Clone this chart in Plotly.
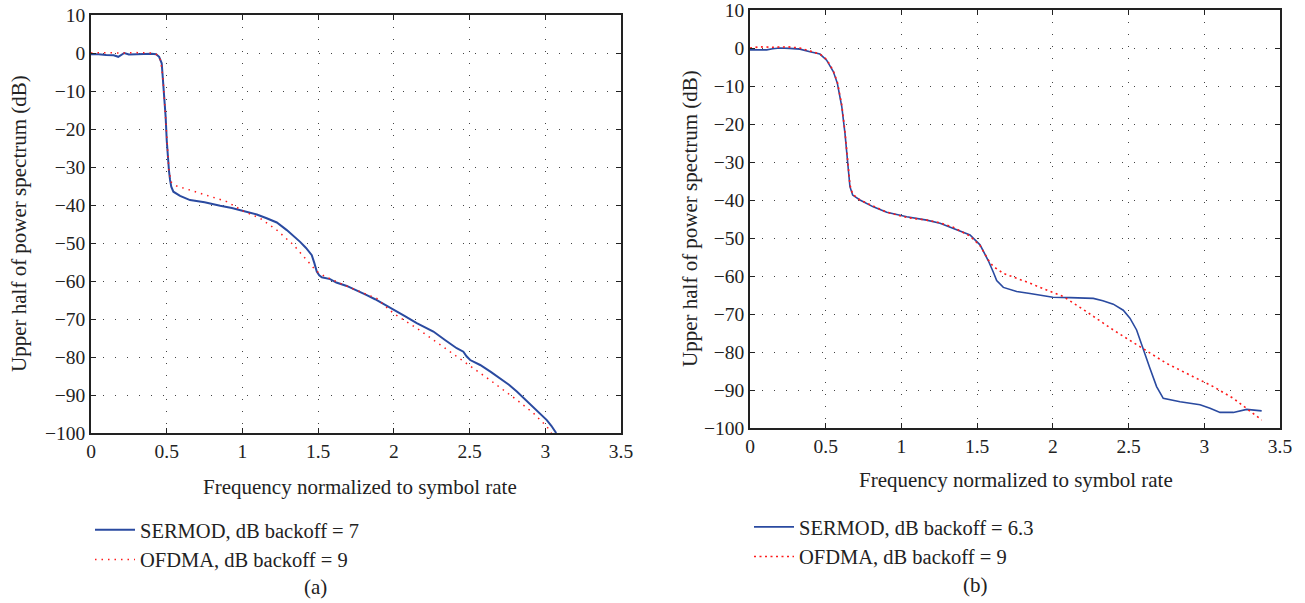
import plotly.graph_objects as go

# ---------------- data ----------------
a_sermod_x = [0.00, 0.05, 0.10, 0.15, 0.18, 0.20, 0.22, 0.25, 0.30, 0.35, 0.40, 0.43, 0.45, 0.467, 0.478,
              0.485, 0.493, 0.50, 0.507, 0.515, 0.522, 0.53, 0.544, 0.588, 0.654, 0.75, 0.853, 0.93, 1.006,
              1.095, 1.16, 1.227, 1.293, 1.34, 1.381, 1.42, 1.458, 1.475, 1.491, 1.507, 1.524, 1.579, 1.62,
              1.689, 1.76, 1.821, 1.876, 1.94, 1.997, 2.07, 2.151, 2.21, 2.261, 2.34, 2.415, 2.459, 2.48,
              2.504, 2.570, 2.64, 2.702, 2.76, 2.812, 2.87, 2.922, 2.97, 3.010, 3.04, 3.072]
a_sermod_y = [-0.3, -0.3, -0.5, -0.6, -1.0, -0.5, 0.0, -0.4, -0.3, -0.2, -0.2, -0.3, -1.0, -2.7, -8.0,
              -12.0, -16.8, -22.9, -27.3, -31.0, -33.4, -35.2, -36.5, -37.6, -38.7, -39.3, -40.2, -40.8, -41.6,
              -42.5, -43.5, -44.6, -46.6, -48.2, -49.7, -51.3, -53.2, -55.3, -57.5, -58.5, -59.0, -59.5, -60.4,
              -61.3, -62.5, -63.7, -64.8, -66.2, -67.6, -69.2, -71.1, -72.4, -73.3, -75.6, -77.7, -78.6, -79.8,
              -80.8, -82.1, -83.9, -85.6, -87.3, -89.1, -91.3, -93.5, -95.3, -96.6, -98.1, -100.0]

a_ofdma_x = [0.00, 0.10, 0.20, 0.30, 0.40, 0.44, 0.46, 0.475, 0.485, 0.495, 0.505, 0.515, 0.53, 0.566,
             0.72, 0.896, 1.006, 1.117, 1.227, 1.337, 1.425, 1.491, 1.546, 1.667, 1.887, 1.997, 2.151,
             2.327, 2.481, 2.636, 2.812, 2.922, 3.010, 3.04]
a_ofdma_y = [0.0, 0.1, 0.0, 0.1, 0.0, -0.5, -2.0, -6.5, -12.5, -19.0, -26.0, -31.0, -34.0, -35.0,
             -36.9, -39.1, -41.6, -43.5, -46.6, -50.5, -54.5, -57.5, -58.8, -61.0, -64.6, -68.5, -72.4,
             -77.3, -81.7, -86.1, -91.3, -94.8, -98.3, -100.0]

b_sermod_x = [0.00, 0.05, 0.11, 0.15, 0.198, 0.26, 0.33, 0.396, 0.462, 0.506, 0.55, 0.577, 0.606, 0.627,
              0.645, 0.66, 0.678, 0.726, 0.814, 0.903, 1.035, 1.167, 1.255, 1.343, 1.453, 1.519, 1.574,
              1.607, 1.629, 1.673, 1.761, 1.849, 1.959, 2.0, 2.113, 2.267, 2.33, 2.399, 2.465, 2.509,
              2.553, 2.597, 2.641, 2.685, 2.729, 2.84, 2.972, 3.038, 3.104, 3.192, 3.28, 3.379]
b_sermod_y = [-0.5, -0.5, -0.5, -0.2, 0.0, -0.1, -0.3, -1.0, -1.6, -3.2, -6.2, -9.3, -15.4, -22.4,
              -29.5, -36.5, -38.7, -40.0, -41.8, -43.2, -44.4, -45.3, -46.1, -47.5, -49.2, -51.8, -56.0,
              -59.0, -61.2, -63.0, -64.1, -64.6, -65.4, -65.6, -65.7, -65.9, -66.5, -67.4, -69.0, -71.1,
              -74.2, -79.5, -84.3, -89.1, -92.2, -93.1, -93.9, -94.8, -95.9, -95.9, -95.1, -95.5]

b_ofdma_x = [0.00, 0.066, 0.15, 0.25, 0.33, 0.40, 0.462, 0.506, 0.55, 0.577, 0.606, 0.627, 0.645, 0.66,
             0.678, 0.726, 0.814, 0.903, 1.035, 1.167, 1.255, 1.343, 1.453, 1.519, 1.574, 1.607, 1.673,
             1.739, 1.849, 1.959, 2.069, 2.223, 2.399, 2.575, 2.751, 2.927, 3.059, 3.192, 3.28, 3.379]
b_ofdma_y = [0.0, 0.3, 0.2, 0.3, 0.0, -0.8, -1.6, -3.0, -6.0, -9.0, -15.0, -22.0, -29.5, -36.0,
             -38.5, -40.0, -41.6, -43.2, -44.6, -45.3, -46.0, -47.2, -49.5, -52.0, -55.8, -57.5, -59.3,
             -60.2, -61.9, -63.7, -65.4, -69.4, -74.2, -78.6, -83.0, -86.5, -89.1, -92.2, -94.8, -97.9]

x_ticks = [0, 0.5, 1, 1.5, 2, 2.5, 3, 3.5]
x_ticklabels = ["0", "0.5", "1", "1.5", "2", "2.5", "3", "3.5"]
y_ticks = [10, 0, -10, -20, -30, -40, -50, -60, -70, -80, -90, -100]
y_ticklabels = ["10", "0", "\u221210", "\u221220", "\u221230", "\u221240", "\u221250", "\u221260",
                "\u221270", "\u221280", "\u221290", "\u2212100"]

x_title = "Frequency normalized to symbol rate"
y_title = "Upper half of power spectrum (dB)"
legend_a = ["SERMOD, dB backoff = 7", "OFDMA, dB backoff = 9"]
legend_b = ["SERMOD, dB backoff = 6.3", "OFDMA, dB backoff = 9"]
panel_labels = ["(a)", "(b)"]

# ---------------- figure ----------------
W, H = 1305, 603
FONT = "'Liberation Serif', 'DejaVu Serif', serif"
FS_TICK = 19.5
FS_TITLE = 21
FS_LEG = 20.5
BLUE = "#2a4aa0"
RED = "#ff1a1a"
INK = "#222"

fig = go.Figure()
fig.add_trace(go.Scatter(x=a_sermod_x, y=a_sermod_y, mode="lines", name=legend_a[0],
                         line=dict(color=BLUE, width=2), xaxis="x", yaxis="y", legend="legend"))
fig.add_trace(go.Scatter(x=a_ofdma_x, y=a_ofdma_y, mode="lines", name=legend_a[1],
                         line=dict(color=RED, width=1.5, dash="1.5px,5px"), xaxis="x", yaxis="y",
                         legend="legend"))
fig.add_trace(go.Scatter(x=b_sermod_x, y=b_sermod_y, mode="lines", name=legend_b[0],
                         line=dict(color=BLUE, width=1.6), xaxis="x2", yaxis="y2", legend="legend2"))
fig.add_trace(go.Scatter(x=b_ofdma_x, y=b_ofdma_y, mode="lines", name=legend_b[1],
                         line=dict(color=RED, width=1.6, dash="2px,3.5px"), xaxis="x2", yaxis="y2",
                         legend="legend2"))


def px_x(p):
    return p / W


def px_y(p):
    return 1 - p / H


axis_common = dict(
    showline=True, linecolor=INK, linewidth=1.5, mirror="ticks",
    ticks="inside", ticklen=5, tickcolor=INK, tickwidth=1.2,
    showgrid=True, gridcolor="#444", gridwidth=1, griddash="1px,11px",
    zeroline=False, automargin=False, ticklabeloverflow="allow",
    tickfont=dict(family=FONT, size=FS_TICK, color=INK),
)

fig.update_layout(
    width=W, height=H,
    margin=dict(l=0, r=0, t=0, b=0),
    paper_bgcolor="white", plot_bgcolor="white",
    font=dict(family=FONT, size=FS_TITLE, color=INK),
    showlegend=True,
    xaxis=dict(domain=[px_x(91), px_x(621)], range=[0, 3.5], anchor="y",
               tickvals=x_ticks, ticktext=x_ticklabels, **axis_common),
    yaxis=dict(domain=[px_y(433), px_y(15)], range=[-100, 10], anchor="x",
               tickvals=y_ticks, ticktext=y_ticklabels, **axis_common),
    xaxis2=dict(domain=[px_x(750), px_x(1280)], range=[0, 3.5], anchor="y2",
                tickvals=x_ticks, ticktext=x_ticklabels, **axis_common),
    yaxis2=dict(domain=[px_y(428), px_y(10)], range=[-100, 10], anchor="x2",
                tickvals=y_ticks, ticktext=y_ticklabels, **axis_common),
    legend=dict(x=px_x(90), y=px_y(510), xanchor="left", yanchor="top",
                bgcolor="rgba(0,0,0,0)", font=dict(family=FONT, size=FS_LEG, color=INK),
                tracegroupgap=0, itemwidth=40),
    legend2=dict(x=px_x(749), y=px_y(507), xanchor="left", yanchor="top",
                 bgcolor="rgba(0,0,0,0)", font=dict(family=FONT, size=FS_LEG, color=INK),
                 tracegroupgap=0, itemwidth=40),
)

ann = []
ann.append(dict(text=x_title, x=px_x(360), y=px_y(487), xref="paper", yref="paper",
                showarrow=False, xanchor="center", yanchor="middle"))
ann.append(dict(text=x_title, x=px_x(1016), y=px_y(480), xref="paper", yref="paper",
                showarrow=False, xanchor="center", yanchor="middle"))
ann.append(dict(text=y_title, x=px_x(19), y=px_y(224), xref="paper", yref="paper",
                showarrow=False, xanchor="center", yanchor="middle", textangle=-90))
ann.append(dict(text=y_title, x=px_x(690), y=px_y(219), xref="paper", yref="paper",
                showarrow=False, xanchor="center", yanchor="middle", textangle=-90))
ann.append(dict(text=panel_labels[0], x=px_x(315), y=px_y(587), xref="paper", yref="paper",
                showarrow=False, xanchor="center", yanchor="middle"))
ann.append(dict(text=panel_labels[1], x=px_x(975), y=px_y(585), xref="paper", yref="paper",
                showarrow=False, xanchor="center", yanchor="middle"))
fig.update_layout(annotations=ann)

fig.write_html("out.html", config={"displayModeBar": False},
               post_script="document.body.style.margin='0';document.body.style.overflow='hidden';")
